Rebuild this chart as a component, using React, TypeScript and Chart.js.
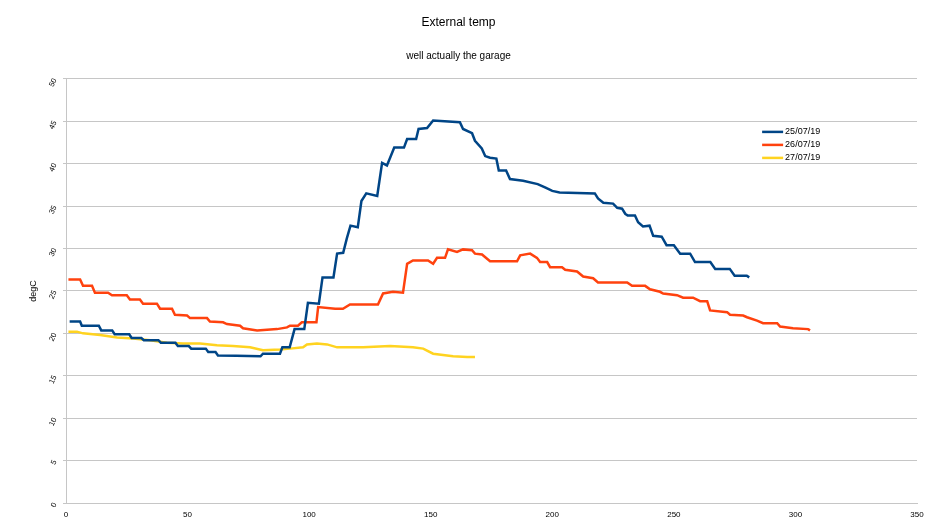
import React, { useEffect, useRef } from "react";
import { Chart, registerables } from "chart.js";

Chart.register(...registerables);

const TITLE = "External temp";
const SUBTITLE = "well actually the garage";
const Y_TITLE = "degC";
const SERIES_LABELS = ["25/07/19", "26/07/19", "27/07/19"];
const SERIES_COLORS = ["#004586", "#ff420e", "#ffd320"];

const blueX = [1.5, 5.8, 6.5, 13.5, 14.5, 19, 20, 26, 27, 31, 32, 38, 39, 45, 46, 50.5, 51.5, 57.5, 58.5, 61.5, 62.5, 70, 80, 81, 88, 89, 92, 94, 98, 99.5, 104, 105.5, 110, 111.5, 114, 115.5, 117, 120, 121.5, 123.5, 128, 130, 132, 133.3, 135, 139, 140.3, 144, 145, 148.5, 151, 162, 163.3, 167, 168.2, 171, 172.4, 174.4, 177, 178, 181, 182.6, 188, 194, 197, 200, 203, 217.5, 218.8, 221, 225, 226.7, 228.7, 230, 231, 234, 235.3, 237.3, 240, 241.5, 245, 247, 250, 252.6, 256.7, 258.7, 265, 267, 273, 275, 280, 281];
const blueY = [21.4, 21.4, 20.9, 20.9, 20.35, 20.35, 19.9, 19.9, 19.45, 19.45, 19.2, 19.2, 18.9, 18.9, 18.5, 18.5, 18.2, 18.2, 17.8, 17.8, 17.4, 17.35, 17.3, 17.6, 17.6, 18.35, 18.35, 20.5, 20.5, 23.6, 23.5, 26.6, 26.6, 29.4, 29.5, 31.2, 32.7, 32.5, 35.6, 36.5, 36.2, 40.1, 39.8, 40.7, 41.9, 41.9, 42.9, 42.9, 44.1, 44.2, 45.1, 44.9, 44.1, 43.6, 42.7, 41.8, 40.9, 40.7, 40.6, 39.2, 39.2, 38.2, 38.0, 37.6, 37.2, 36.8, 36.6, 36.5, 35.9, 35.4, 35.3, 34.8, 34.7, 34.1, 33.9, 33.9, 33.1, 32.6, 32.7, 31.5, 31.4, 30.4, 30.4, 29.4, 29.4, 28.4, 28.4, 27.6, 27.6, 26.8, 26.8, 26.6];

const orangeX = [1, 5.8, 7, 10.7, 11.9, 17.3, 18.9, 25, 26.3, 30.4, 31.7, 37.4, 38.7, 43.6, 44.8, 49.8, 51, 58, 59.2, 64.6, 66.2, 71.6, 72.8, 78.6, 86.8, 90.9, 92.1, 95.4, 97, 103, 103.7, 110.7, 113.9, 116.8, 128.3, 130.4, 134.5, 138.6, 140.3, 142.7, 148.9, 151, 152.6, 155.9, 157.1, 160.8, 163.3, 167, 168.2, 171.1, 174.4, 185.5, 186.8, 190.9, 193.7, 195, 197.9, 199.1, 204, 205.3, 210.2, 212.7, 216.8, 218.8, 230.8, 232.8, 238.2, 240.2, 244.3, 245.6, 251.3, 253.8, 257.9, 260.8, 263.7, 264.9, 271.9, 273.1, 278.5, 280.1, 284.2, 286.7, 292.5, 293.7, 299, 305.2, 306];
const orangeY = [26.35, 26.35, 25.6, 25.6, 24.8, 24.8, 24.5, 24.5, 24.0, 24.0, 23.5, 23.5, 22.9, 22.9, 22.2, 22.1, 21.8, 21.8, 21.4, 21.3, 21.1, 20.9, 20.6, 20.35, 20.5, 20.7, 20.9, 20.9, 21.3, 21.3, 23.1, 22.9, 22.9, 23.4, 23.4, 24.7, 24.9, 24.8, 28.2, 28.6, 28.6, 28.2, 28.9, 28.9, 29.9, 29.6, 29.9, 29.8, 29.4, 29.3, 28.5, 28.5, 29.2, 29.4, 28.9, 28.4, 28.4, 27.8, 27.8, 27.5, 27.3, 26.7, 26.5, 26.0, 26.0, 25.6, 25.6, 25.2, 24.9, 24.7, 24.5, 24.2, 24.2, 23.8, 23.8, 22.7, 22.5, 22.2, 22.1, 21.9, 21.5, 21.2, 21.2, 20.8, 20.6, 20.5, 20.35];

const yellowX = [1, 4.5, 7, 14, 21, 27.6, 34.6, 41.5, 48.1, 55.1, 62.1, 68.7, 75.7, 81, 88, 92.1, 97.5, 99.1, 103.2, 107.4, 111.5, 122.2, 133.3, 142.7, 146.9, 151, 159.2, 165, 168.2];
const yellowY = [20.2, 20.2, 20.0, 19.8, 19.5, 19.4, 19.2, 18.9, 18.8, 18.8, 18.6, 18.5, 18.35, 18.0, 18.1, 18.2, 18.35, 18.7, 18.8, 18.7, 18.35, 18.35, 18.5, 18.35, 18.2, 17.6, 17.3, 17.2, 17.2];

const X_MIN = 0;
const X_MAX = 350;
const X_STEP = 50;
const Y_MIN = 0;
const Y_MAX = 50;
const Y_STEP = 5;

const FONT = "'Liberation Sans', Arial, sans-serif";
const GRID = "#c6c6c6";

function toPoints(xs: number[], ys: number[]) {
  return xs.map((x, i) => ({ x, y: ys[i] }));
}

const legendPlugin = {
  id: "insideLegend",
  afterDatasetsDraw(chart: any) {
    const ctx = chart.ctx;
    const area = chart.chartArea;
    const x0 = area.left + (area.right - area.left) * 0.818;
    const y0 = area.top + 53;
    ctx.save();
    ctx.font = `9px ${FONT}`;
    ctx.textBaseline = "middle";
    ctx.textAlign = "left";
    chart.data.datasets.forEach((ds: any, i: number) => {
      const y = y0 + i * 13;
      ctx.strokeStyle = ds.borderColor;
      ctx.lineWidth = 2.5;
      ctx.beginPath();
      ctx.moveTo(x0, y);
      ctx.lineTo(x0 + 21, y);
      ctx.stroke();
      ctx.fillStyle = "#000";
      ctx.fillText(ds.label, x0 + 23, y);
    });
    ctx.restore();
  },
};

export default function App() {
  const ref = useRef<HTMLCanvasElement>(null);
  useEffect(() => {
    if (!ref.current) return;
    const seriesX = [blueX, orangeX, yellowX];
    const seriesY = [blueY, orangeY, yellowY];
    const chart = new Chart(ref.current, {
      type: "line",
      data: {
        datasets: SERIES_LABELS.map((label, i) => ({
          label,
          data: toPoints(seriesX[i], seriesY[i]),
          borderColor: SERIES_COLORS[i],
          backgroundColor: SERIES_COLORS[i],
          borderWidth: 2.5,
          pointRadius: 0,
          tension: 0,
          fill: false,
        })),
      },
      options: {
        animation: false,
        responsive: false,
        devicePixelRatio: 1,
        layout: { padding: { left: 0, right: 26, top: 0, bottom: 0 } },
        plugins: {
          legend: { display: false },
          tooltip: { enabled: false },
          title: {
            display: true,
            text: TITLE,
            color: "#000",
            font: { family: FONT, size: 12, weight: "normal" },
            padding: { top: 15, bottom: 0 },
          },
          subtitle: {
            display: true,
            text: SUBTITLE,
            color: "#000",
            font: { family: FONT, size: 10, weight: "normal" },
            padding: { top: 21, bottom: 16.5 },
          },
        },
        scales: {
          x: {
            type: "linear",
            min: X_MIN,
            max: X_MAX,
            grid: { display: false, drawTicks: false },
            border: { display: true, color: GRID },
            ticks: {
              stepSize: X_STEP,
              color: "#000",
              padding: 7,
              font: { family: FONT, size: 8 },
              maxRotation: 0,
            },
            afterFit(scale: any) {
              scale.height = 27;
            },
          },
          y: {
            type: "linear",
            min: Y_MIN,
            max: Y_MAX,
            grid: { color: GRID, drawTicks: true, tickLength: 3 },
            border: { display: true, color: GRID },
            ticks: {
              stepSize: Y_STEP,
              color: "#000",
              padding: 8,
              minRotation: 65,
              maxRotation: 65,
              font: { family: FONT, size: 7.5 },
            },
            title: {
              display: true,
              text: Y_TITLE,
              color: "#000",
              font: { family: FONT, size: 9 },
              padding: { top: 28.5, bottom: 0 },
            },
            afterFit(scale: any) {
              scale.width = 66;
            },
          },
        },
      },
      plugins: [legendPlugin],
    } as any);
    return () => chart.destroy();
  }, []);
  return (
    <div style={{ position: "absolute", left: 0, top: 0, width: 943, height: 530, background: "#fff" }}>
      <canvas ref={ref} width={943} height={530} style={{ display: "block" }} />
    </div>
  );
}
